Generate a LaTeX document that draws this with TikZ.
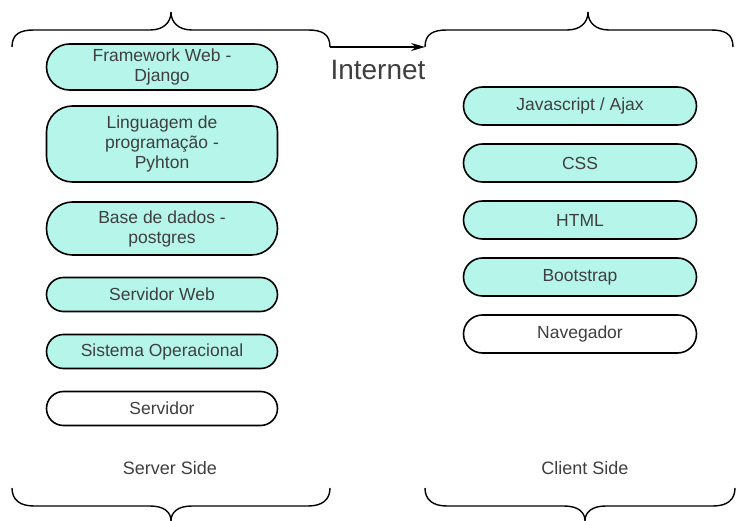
\documentclass[tikz,border=0pt]{standalone}
\usepackage{fontspec}
\setmainfont{Liberation Sans}
\usetikzlibrary{arrows.meta,positioning}

\definecolor{layerfill}{HTML}{B5F5EA}
\definecolor{labelgray}{HTML}{3F3F3F}

\begin{document}
\begin{tikzpicture}[x=1pt,y=-1pt,>={Stealth[length=14pt,width=8pt]},node distance=17.4pt,
                    layer/.style={draw=black,line width=1.6pt,fill=layerfill,text=labelgray,
                                  align=center,inner sep=0pt,rounded corners=17pt,
                                  minimum width=231pt,minimum height=34pt,
                                  font=\fontsize{17.5}{20}\selectfont},
                    plain/.style={layer,fill=white},
                    brace/.style={draw=black,line width=1.4pt},
                    side/.style={text=labelgray,font=\fontsize{18}{20}\selectfont}]

  \useasboundingbox (0,0) rectangle (737,521);

  % server side
  \node[layer,minimum height=46pt,rounded corners=23pt] (fw) at (162,67) {Framework Web -\\Django};
  \node[layer,minimum height=76pt,rounded corners=26pt] (lang) [below=14.4pt of fw] {Linguagem de\\programação -\\Pyhton};
  \node[layer,minimum height=53pt,rounded corners=26pt] (db) [below=18.4pt of lang] {Base de dados -\\postgres};
  \node[layer] (websrv) [below=20.9pt of db] {Servidor Web};
  \node[layer] (os) [below=21.4pt of websrv] {Sistema Operacional};
  \node[plain] (srv) [below=21.4pt of os] {Servidor};

  % client side
  \node[layer,minimum width=233pt,minimum height=38pt,rounded corners=19pt] (js) at (580,106) {Javascript / Ajax};
  \node[layer,minimum width=233pt,minimum height=38pt,rounded corners=19pt] (css) [below=of js] {CSS};
  \node[layer,minimum width=233pt,minimum height=38pt,rounded corners=19pt] (html) [below=of css] {HTML};
  \node[layer,minimum width=233pt,minimum height=38pt,rounded corners=19pt] (boot) [below=of html] {Bootstrap};
  \node[plain,minimum width=233pt,minimum height=38pt,rounded corners=19pt] (nav) [below=of boot] {Navegador};

  % braces
  \draw[brace] (12,47) .. controls (12,34) and (20,30) .. (34,30) -- (150,30)
               .. controls (164,30) and (171,22) .. (171,12)
               .. controls (171,22) and (178,30) .. (192,30) -- (308,30)
               .. controls (322,30) and (330,34) .. (330,47);
  \draw[brace] (425,47) .. controls (425,34) and (433,30) .. (447,30) -- (567,30)
               .. controls (581,30) and (588,22) .. (588,12)
               .. controls (588,22) and (595,30) .. (609,30) -- (711,30)
               .. controls (725,30) and (733,34) .. (733,47);
  \draw[brace] (12,488) .. controls (12,500) and (20,506) .. (34,506) -- (150,506)
               .. controls (164,506) and (171,512) .. (171,521)
               .. controls (171,512) and (178,506) .. (192,506) -- (308,506)
               .. controls (322,506) and (330,500) .. (330,488);
  \draw[brace] (425,488) .. controls (425,500) and (433,506) .. (447,506) -- (564,506)
               .. controls (578,506) and (585,512) .. (585,521)
               .. controls (585,512) and (592,506) .. (606,506) -- (713,506)
               .. controls (727,506) and (735,500) .. (735,488);

  \coordinate (srvend) at (330,47);
  \coordinate (cliend) at (425,47);
  \draw[->,line width=1.1pt] (srvend) -- (cliend);

  \node[text=labelgray,font=\fontsize{28}{30}\selectfont] (net) at (378,70) {Internet};
  \node[side] (srvside) at (170,468) {Server Side};
  \node[side] (cliside) at (585,468) {Client Side};
\end{tikzpicture}
\end{document}
